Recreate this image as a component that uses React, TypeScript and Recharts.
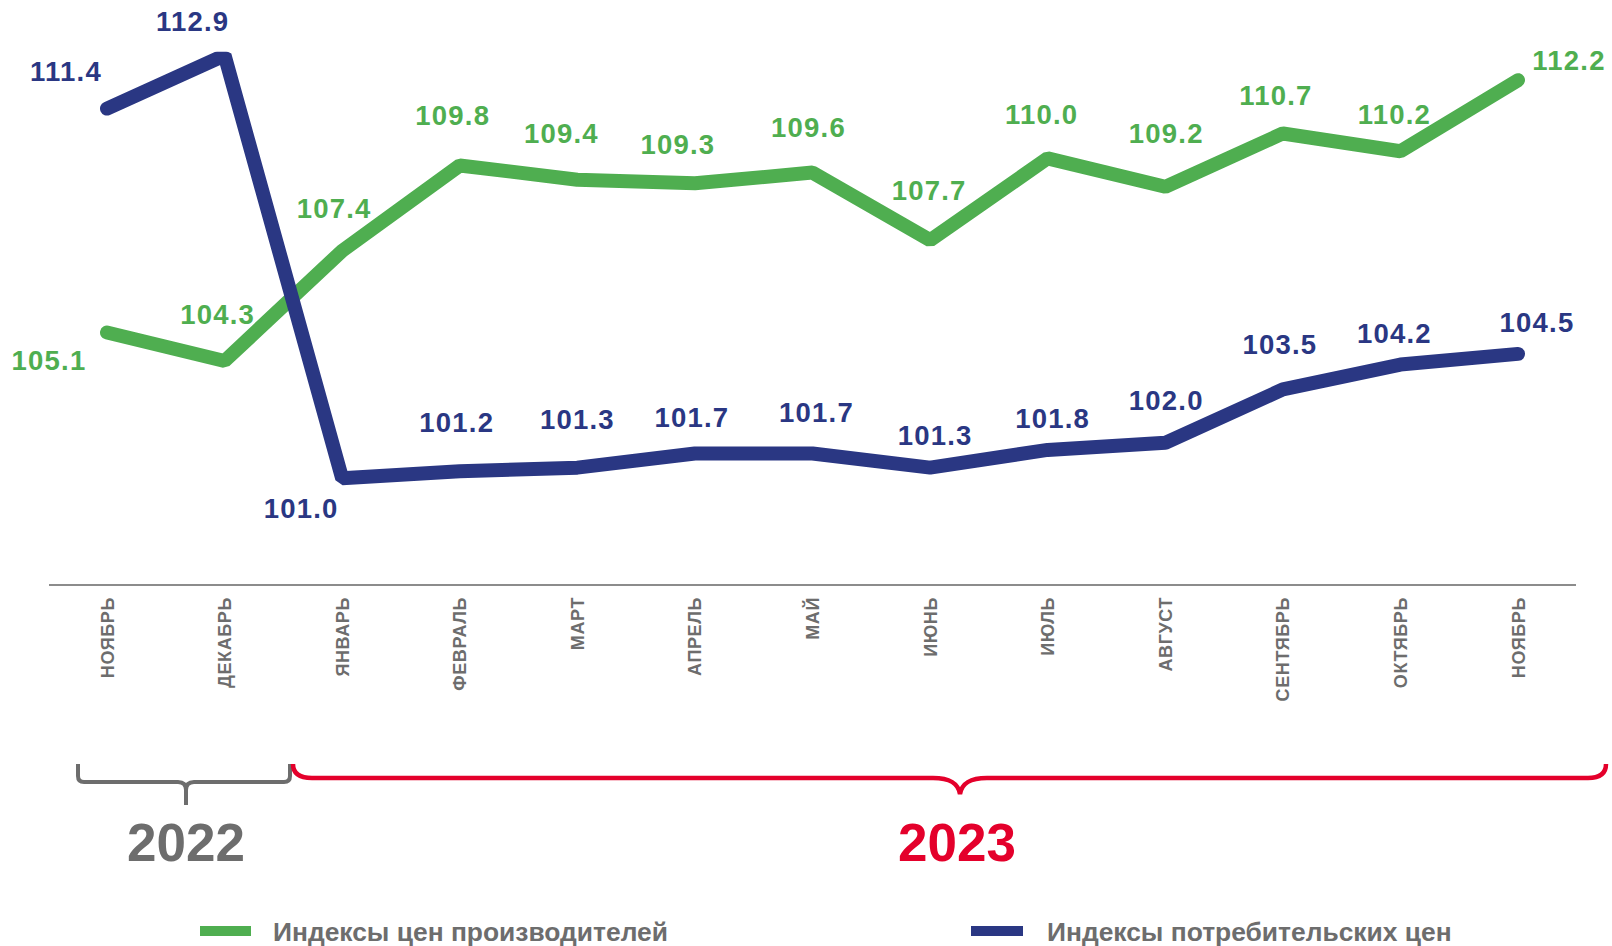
import React from 'react';
import { LineChart, Line, XAxis, YAxis, LabelList, Legend, Customized } from 'recharts';

const monthKeys = ['m0', 'm1', 'm2', 'm3', 'm4', 'm5', 'm6', 'm7', 'm8', 'm9', 'm10', 'm11', 'm12'];
const monthLabels = ['НОЯБРЬ', 'ДЕКАБРЬ', 'ЯНВАРЬ', 'ФЕВРАЛЬ', 'МАРТ', 'АПРЕЛЬ', 'МАЙ', 'ИЮНЬ', 'ИЮЛЬ', 'АВГУСТ', 'СЕНТЯБРЬ', 'ОКТЯБРЬ', 'НОЯБРЬ'];
const producerValues = [105.1, 104.3, 107.4, 109.8, 109.4, 109.3, 109.6, 107.7, 110.0, 109.2, 110.7, 110.2, 112.2];
const consumerValues = [111.4, 112.9, 101.0, 101.2, 101.3, 101.7, 101.7, 101.3, 101.8, 102.0, 103.5, 104.2, 104.5];
const seriesNames = ['Индексы цен производителей', 'Индексы потребительских цен'];
const yearLabels = ['2022', '2023'];

// label offsets (layout only)
const producerLabelOffsets: [number, number][] = [
  [-58, 28], [-7, -47], [-8, -42], [-7, -50], [-16, -46], [-17, -39], [-4, -45],
  [-1, -50], [-6, -44], [1, -54], [-7, -38], [-6, -37], [51, -20],
];
const consumerLabelOffsets: [number, number][] = [
  [-41, -37], [-32, -34], [-41, 30], [-3, -49], [0, -48], [-3, -36], [4, -41],
  [5, -32], [5, -32], [1, -42], [-3, -45], [-6, -31], [19, -32],
];

const GREEN = '#4fae50';
const BLUE = '#2a3783';
const GRAY = '#6d6d6d';
const RED = '#e4002b';
const FONT = '"Liberation Sans", Arial, Helvetica, sans-serif';

const data = monthKeys.map((k, i) => ({
  key: k,
  producer: producerValues[i],
  consumer: consumerValues[i],
}));

const makeLabel = (offsets: [number, number][], color: string) => (props: any) => {
  const { x, y, index, value } = props;
  const [dx, dy] = offsets[index] || [0, -30];
  return (
    <text
      x={x + dx}
      y={y + dy + 9.7}
      textAnchor="middle"
      fill={color}
      fontFamily={FONT}
      fontWeight="bold"
      fontSize={27.5}
      letterSpacing={1.2}
    >
      {Number(value).toFixed(1)}
    </text>
  );
};

const MonthTick = (props: any) => {
  const { x, y, index } = props;
  return (
    <text
      transform={`translate(${x + 6.5}, ${y}) rotate(-90)`}
      textAnchor="end"
      fill={GRAY}
      fontFamily={FONT}
      fontWeight="bold"
      fontSize={18}
      letterSpacing={0.6}
    >
      {monthLabels[index]}
    </text>
  );
};

const Decorations = () => (
  <g>
    <path
      d="M78,764 L78,776 Q78,782 84,782 L178,782 Q186,782 186,790 L186,805 M186,790 Q186,782 194,782 L284,782 Q290,782 290,776 L290,764"
      fill="none"
      stroke={GRAY}
      strokeWidth={4}
    />
    <path
      d="M293,764 Q293,778 312,778 L933,778 C950,778 958,783 960,794 C962,783 970,778 987,778 L1588,778 Q1606,778 1606,764"
      fill="none"
      stroke={RED}
      strokeWidth={4.5}
    />
    <text x={186} y={861} textAnchor="middle" fill={GRAY} fontFamily={FONT} fontWeight="bold" fontSize={53}>
      {yearLabels[0]}
    </text>
    <text x={957} y={861} textAnchor="middle" fill={RED} fontFamily={FONT} fontWeight="bold" fontSize={53}>
      {yearLabels[1]}
    </text>
  </g>
);

const LegendContent = () => (
  <svg width={1612} height={46} style={{ display: 'block' }}>
    <rect x={200} y={26} width={51} height={10} fill={GREEN} />
    <text x={273} y={41} fill={GRAY} fontFamily={FONT} fontWeight="bold" fontSize={26.4}>
      {seriesNames[0]}
    </text>
    <rect x={971} y={26} width={52} height={10} fill={BLUE} />
    <text x={1047} y={41} fill={GRAY} fontFamily={FONT} fontWeight="bold" fontSize={26.4}>
      {seriesNames[1]}
    </text>
  </svg>
);

export default function App() {
  return (
    <div style={{ position: 'absolute', left: 0, top: 0, width: 1612, height: 946, background: '#ffffff' }}>
      <LineChart
        width={1612}
        height={946}
        data={data}
        margin={{ top: 51.7, right: 36, left: 49, bottom: 211 }}
      >
        <XAxis
          dataKey="key"
          scale="point"
          padding={{ left: 58, right: 58 }}
          axisLine={{ stroke: '#8c8c8c', strokeWidth: 2 }}
          tickLine={false}
          tickSize={0}
          tickMargin={12}
          height={150}
          interval={0}
          tick={<MonthTick />}
        />
        <YAxis hide domain={[98, 113]} type="number" allowDataOverflow />
        <Line
          type="linear"
          dataKey="producer"
          name={seriesNames[0]}
          stroke={GREEN}
          strokeWidth={14}
          strokeLinecap="round"
          strokeLinejoin="bevel"
          dot={false}
          activeDot={false}
          isAnimationActive={false}
        >
          <LabelList dataKey="producer" content={makeLabel(producerLabelOffsets, GREEN)} />
        </Line>
        <Line
          type="linear"
          dataKey="consumer"
          name={seriesNames[1]}
          stroke={BLUE}
          strokeWidth={14}
          strokeLinecap="round"
          strokeLinejoin="bevel"
          dot={false}
          activeDot={false}
          isAnimationActive={false}
        >
          <LabelList dataKey="consumer" content={makeLabel(consumerLabelOffsets, BLUE)} />
        </Line>
        <Customized component={Decorations} />
        <Legend
          layout="horizontal"
          verticalAlign="middle"
          align="center"
          wrapperStyle={{ position: 'absolute', left: 0, top: 900, width: 1612, height: 46 }}
          content={<LegendContent />}
        />
      </LineChart>
    </div>
  );
}
